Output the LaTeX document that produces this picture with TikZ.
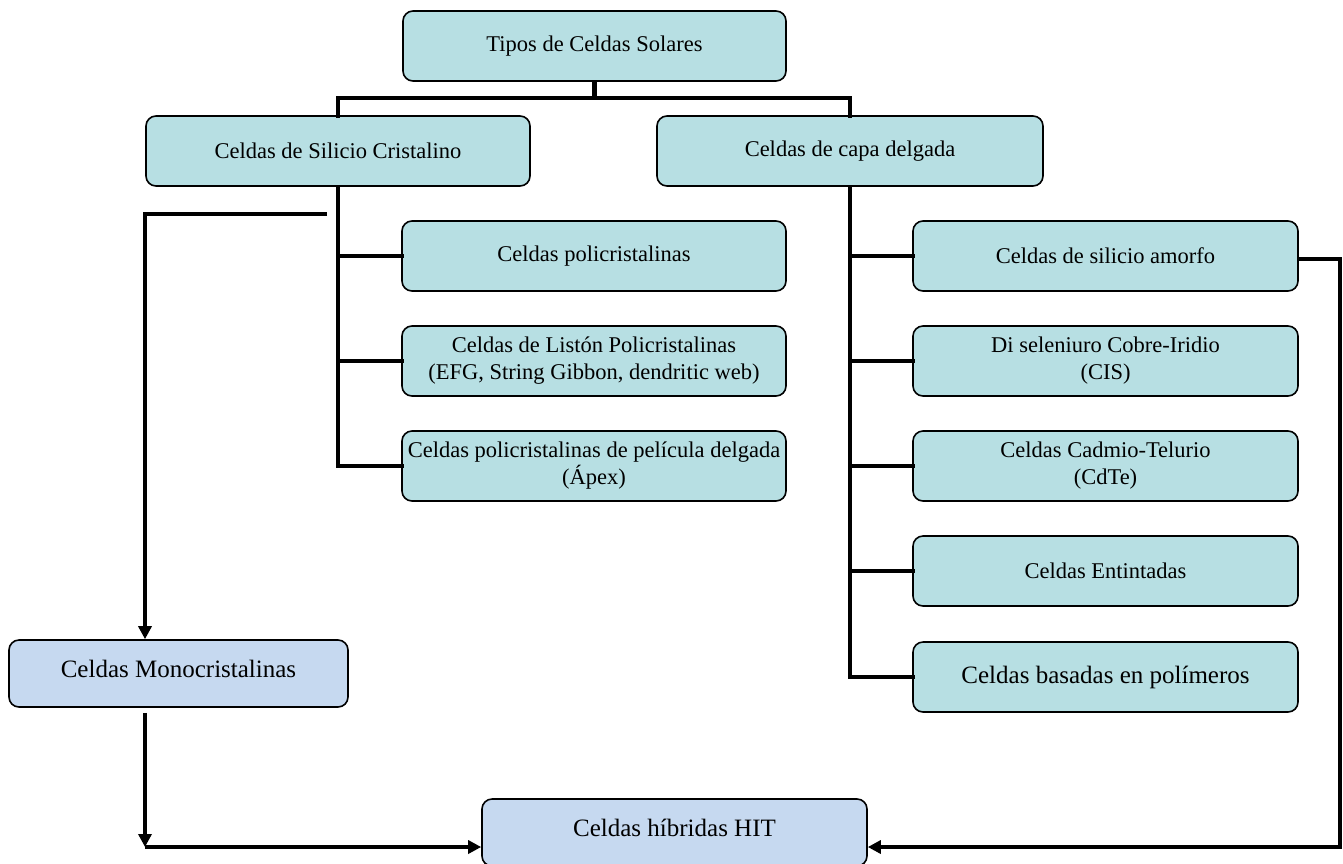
\documentclass[tikz,border=0pt]{standalone}
\usepackage{fontspec}
\setmainfont{Liberation Serif}
\usetikzlibrary{arrows.meta}
\definecolor{tealbox}{HTML}{B7DFE3}
\definecolor{bluebox}{HTML}{C6D9F0}
\tikzset{
  cbox/.style={draw=black, line width=0.8pt, rounded corners=5pt, fill=tealbox,
    minimum height=35pt, inner xsep=1pt, align=center,
    font=\fontsize{11.25}{13.5}\selectfont},
  bbox/.style={cbox, fill=bluebox, minimum height=33.5pt, text depth=5pt,
    font=\fontsize{12.5}{15}\selectfont},
  conn/.style={line width=2.3pt, line cap=rect},
  arr/.style={line width=2.1pt, -{Triangle[length=6.5pt,width=6.5pt]}}
}
\begin{document}
\begin{tikzpicture}[x=0.5pt,y=-0.5pt]
\useasboundingbox (0,0) rectangle (1343,863);
% nodes
\node[cbox, minimum width=191.5pt] (top) at (594.5,46) {Tipos de Celdas Solares};
\node[cbox, minimum width=192pt] (sil) at (338,151) {Celdas de Silicio Cristalino};
\node[cbox, minimum width=193pt] (capa) at (850,151) {Celdas de capa delgada};
\node[cbox, minimum width=192pt] (l1) at (594,256) {Celdas policristalinas};
\node[cbox, minimum width=192pt] (l2) at (594,361) {Celdas de Listón Policristalinas\\(EFG, String Gibbon, dendritic web)};
\node[cbox, minimum width=192pt] (l3) at (594,466) {Celdas policristalinas de película delgada\\(Ápex)};
\node[cbox, minimum width=192.5pt] (r1) at (1105.5,256) {Celdas de silicio amorfo};
\node[cbox, minimum width=192.5pt] (r2) at (1105.5,361) {Di seleniuro Cobre-Iridio\\(CIS)};
\node[cbox, minimum width=192.5pt] (r3) at (1105.5,466) {Celdas Cadmio-Telurio\\(CdTe)};
\node[cbox, minimum width=192.5pt] (r4) at (1105.5,571) {Celdas Entintadas};
\node[cbox, minimum width=192.5pt, font=\fontsize{12.5}{15}\selectfont] (r5) at (1105.5,677) {Celdas basadas en polímeros};
\node[bbox, minimum width=169.5pt] (mono) at (178.5,673.5) {Celdas Monocristalinas};
\node[bbox, minimum width=192.5pt] (hit) at (674.5,832.5) {Celdas híbridas HIT};
% coordinates
\coordinate (j) at (594.5,98);
\coordinate (fa) at (327,214);
\coordinate (fb) at (145,214);
\coordinate (mb) at (145,847);
\coordinate (rc) at (1340,259);
\coordinate (rd) at (1340,847);
% tree connectors
\draw[conn] (top.south) -- (j);
\draw[conn] (sil.north) |- (j) -| (capa.north);
\draw[conn] (sil.south) |- (l3.west);
\draw[conn] (l1.west) -- (l1.west -| sil.south);
\draw[conn] (l2.west) -- (l2.west -| sil.south);
\draw[conn] (capa.south) |- (r5.west);
\draw[conn] (r1.west) -- (r1.west -| capa.south);
\draw[conn] (r2.west) -- (r2.west -| capa.south);
\draw[conn] (r3.west) -- (r3.west -| capa.south);
\draw[conn] (r4.west) -- (r4.west -| capa.south);
% arrows
\draw[arr] (fa) -- (fb) -- (fb |- mono.north);
\draw[arr, shorten <=2.5pt] (fb |- mono.south) -- (mb);
\draw[arr] (mb) -- (hit.west |- mb);
\draw[arr] (r1.east |- rc) -- (rc) -- (rd) -- (hit.east |- rd);
\end{tikzpicture}
\end{document}
